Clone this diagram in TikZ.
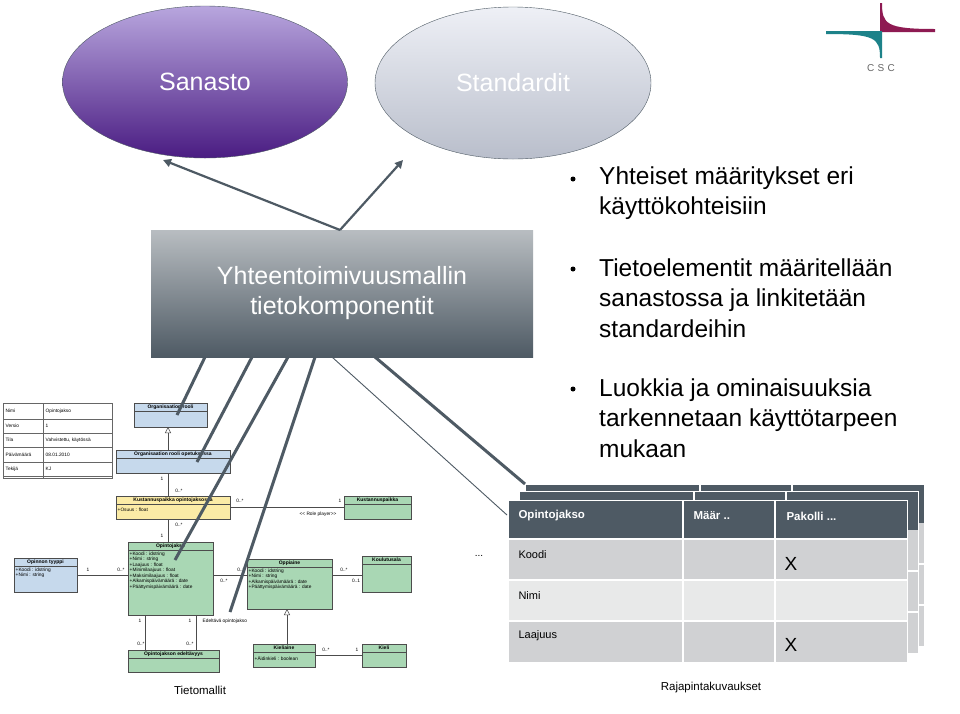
\documentclass[tikz,border=0pt]{standalone}
\usepackage{fontspec}
\setmainfont{Liberation Sans}
\usetikzlibrary{shapes.geometric,arrows.meta}
\definecolor{slate}{HTML}{4E5A64}
\definecolor{umlblue}{HTML}{C6D9EC}
\definecolor{umlgreen}{HTML}{A9D7B4}
\definecolor{umlyellow}{HTML}{FBEBA6}
\definecolor{rowA}{HTML}{D0D1D3}
\definecolor{rowB}{HTML}{E8E9E9}
\definecolor{cscteal}{HTML}{1D8289}
\definecolor{cscred}{HTML}{8E1A52}
\definecolor{lavtop}{HTML}{B8A6DE}
\definecolor{lavbot}{HTML}{4A1C82}
\definecolor{stdtop}{HTML}{EEF0F6}
\definecolor{stdbot}{HTML}{B9BECB}
\begin{document}
\begin{tikzpicture}[x=1pt,y=-1pt,
  tiny/.style={font=\fontsize{4.8}{5.5}\selectfont,inner sep=0.5pt},
  tinyb/.style={font=\fontsize{5}{5.5}\selectfont\bfseries,inner sep=0.5pt},
  umlline/.style={draw=black!70,line width=0.5pt},
  thick line/.style={draw=slate,line width=3pt},
  bullet/.style={anchor=west,font=\fontsize{24.5}{30.5}\selectfont,align=left,text=black,inner sep=0pt},
  tcell/.style={anchor=west,font=\fontsize{11}{12}\selectfont},
  hcell/.style={anchor=west,font=\fontsize{11.5}{12}\selectfont\bfseries,text=white},
  xmark/.style={anchor=west,font=\fontsize{19}{19}\selectfont},
  gen/.style={-{Triangle[open,length=6pt,width=6pt]},black!70,line width=0.5pt}
]
\useasboundingbox (0,0) rectangle (960,713);
\fill[white] (0,0) rectangle (960,713);

% CSC logo
\fill[cscred] (880,3) -- (882,3) .. controls (882,24) and (886,29) .. (935,29) -- (935,32) -- (880,32) -- cycle;
\fill[cscteal] (826,31) -- (880,31) -- (882,31) -- (882,58) -- (880,58) .. controls (880,38) and (875,34) .. (826,34) -- cycle;
\node[text=black!60,font=\fontsize{10}{10}\selectfont] (csc) at (881,68) {C\,\,S\,\,C};

% ellipses
\node[ellipse,draw=slate,top color=lavtop,bottom color=lavbot,
  minimum width=285pt,minimum height=152pt,text=white,font=\fontsize{25}{28}\selectfont] (san) at (205,82) {Sanasto};
\node[ellipse,draw=slate,top color=stdtop,bottom color=stdbot,
  minimum width=276pt,minimum height=152pt,text=white,font=\fontsize{25}{28}\selectfont] (std) at (513,83) {Standardit};

% main box
\node[top color=slate!40!white,bottom color=slate,minimum width=382pt,minimum height=127pt,
  text=white,align=center,font=\fontsize{25}{30}\selectfont] (box) at (342,293.5) {Yhteentoimivuusmallin\\tietokomponentit};
\coordinate (top) at (340,230);
\draw[slate,line width=2.2pt,-{Triangle[length=8pt,width=8pt]}] (top) -- (163,160);
\draw[slate,line width=2.2pt,-{Triangle[length=8pt,width=8pt]}] (top) -- (403,160);

% bullets
\foreach \y in {179,269,389} \fill (573,\y) circle (2.5pt);
\node[bullet] (b1) at (599,193) {Yhteiset määritykset eri\\käyttökohteisiin};
\node[bullet] (b2) at (599,298) {Tietoelementit määritellään\\sanastossa ja linkitetään\\standardeihin};
\node[bullet] (b3) at (599,418) {Luokkia ja ominaisuuksia\\tarkennetaan käyttötarpeen\\mukaan};

% ---------- UML ----------
\draw[black!60,line width=0.4pt] (3,403) rectangle (112,478);
\foreach \y in {419,433,447,462,476} \draw[black!60,line width=0.4pt] (3,\y) -- (112,\y);
\draw[black!60,line width=0.4pt] (43,403) -- (43,478);
\foreach \a/\b/\y in {Nimi/Opintojakso/411,Versio/1/426,Tila/{Vahvistettu, käytössä}/440,Päivämäärä/08.01.2010/454.5,Tekijä/KJ/469}{
  \node[tiny,anchor=west] at (5,\y) {\a};
  \node[tiny,anchor=west] at (45,\y) {\b};}

\newcommand{\umlclass}[7]{%
  \fill[#6] (#2,#3) rectangle (#4,#5);
  \draw[black!70,line width=0.5pt] (#2,#3) rectangle (#4,#5);
  \draw[black!70,line width=0.4pt] (#2,#3+8) -- (#4,#3+8);
  \node[tinyb] (#1) at ({(#2+#4)/2},#3+4) {#7};}
\umlclass{or}{134}{403}{207}{427}{umlblue}{Organisaation rooli}
\umlclass{oro}{116}{450}{230}{473}{umlblue}{Organisaation rooli opetuksessa}
\umlclass{kpo}{116}{496}{230}{519}{umlyellow}{Kustannuspaikka opintojaksossa}
\umlclass{kp}{344}{496}{411}{519}{umlgreen}{Kustannuspaikka}
\umlclass{oj}{128}{542}{213}{615}{umlgreen}{Opintojakso}
\umlclass{ot}{14}{558}{77}{592}{umlblue}{Opinnon tyyppi}
\umlclass{opp}{247}{559}{332}{609}{umlgreen}{Oppiaine}
\umlclass{ka}{362}{556}{411}{592}{umlgreen}{Koulutusala}
\umlclass{kie}{253}{644}{315}{667}{umlgreen}{Kieliaine}
\umlclass{kl}{362}{644}{406}{667}{umlgreen}{Kieli}
\umlclass{oje}{128}{650}{219}{672}{umlgreen}{Opintojakson edeltävyys}

\node[tiny,anchor=west] at (117,510) {+Osuus : float};
\node[tiny,anchor=north west,align=left] at (129,551) {+Koodi : idstring\\+Nimi : string\\+Laajuus : float\\+Minimilaajuus : float\\+Maksimilaajuus : float\\+Alkamispäivämäärä : date\\+Päättymispäivämäärä : date};
\node[tiny,anchor=north west,align=left] at (15,567) {+Koodi : idstring\\+Nimi : string};
\node[tiny,anchor=north west,align=left] at (248,568) {+Koodi : idstring\\+Nimi : string\\+Alkamispäivämäärä : date\\+Päättymispäivämäärä : date};
\node[tiny,anchor=west] at (254,658) {+Äidinkieli : boolean};

\draw[gen] (168,450) -- (168,427);
\draw[gen] (287,644) -- (287,609);
\draw[umlline] (168,473) -- (168,496);
\draw[umlline] (168,519) -- (168,542);
\draw[umlline] (230,507) -- (344,507);
\draw[umlline] (77,575) -- (128,575);
\draw[umlline] (213,575) -- (247,575);
\draw[umlline] (332,575) -- (362,575);
\draw[umlline] (315,655) -- (362,655);
\draw[umlline] (145,615) -- (145,650);
\draw[umlline] (196,615) -- (196,650);
\foreach \t/\x/\y in {1/162/479,{0..*}/179/491,{0..*}/179/525,1/162/536,{0..*}/240/501,1/340/501,
  1/88/570,{0..*}/121/570,{0..*}/241/570,{0..*}/224/581,{0..*}/344/570,{0..1}/356/581,
  {0..*}/326/650,1/357/650,1/140/621,1/190/621,{0..*}/141/644,{0..*}/190/644}
  \node[tiny] at (\x,\y) {\t};
\node[tiny] at (318,514) {<{}< Role player>{}>};
\node[tiny,anchor=west] at (202,621) {Edeltävä opintojakso};

% ---------- table stack ----------
\foreach \dx/\dy in {17/-16,11/-9}{
  \begin{scope}[shift={(\dx,\dy)}]
  \fill[rowA] (508,539) rectangle (907,662);
  \fill[slate] (508,500) rectangle (907,539);
  \foreach \y in {580,621} \draw[white,line width=1.5pt] (508,\y) -- (907,\y);
  \foreach \x in {683,775} \draw[white,line width=1.5pt] (\x,500) -- (\x,662);
  \draw[white,line width=1pt] (508,500) rectangle (907,662);
  \end{scope}}
\fill[slate] (508,500) rectangle (907,539);
\fill[rowA] (508,539) rectangle (907,580);
\fill[rowB] (508,580) rectangle (907,621);
\fill[rowA] (508,621) rectangle (907,662);
\foreach \y in {539,580,621} \draw[white,line width=1.5pt] (508,\y) -- (907,\y);
\foreach \x in {683,775} \draw[white,line width=1.5pt] (\x,500) -- (\x,662);
\draw[white,line width=1pt] (508,500) rectangle (907,662);
\node[hcell] (h1) at (515,516) {Opintojakso};
\node[hcell] (h2) at (690,516) {Määr ..};
\node[hcell] (h3) at (783,516) {Pakolli ...};
\node[tcell] (r1) at (515,555) {Koodi};
\node[tcell] (r2) at (515,596) {Nimi};
\node[tcell] (r3) at (515,636) {Laajuus};
\node[xmark] (x1) at (781,564) {X};
\node[xmark] (x2) at (781,645) {X};
\node[font=\fontsize{10}{10}\selectfont] (dots) at (479,556) {...};
\coordinate (tc1) at (525,484);
\coordinate (tc2) at (507,515);

\draw[thick line] (205,357) -- (177,415);
\draw[thick line] (252,357) -- (197,462);
\draw[thick line] (288,357) -- (175,560);
\draw[thick line] (315,357) -- (230,612);
\draw[slate,line width=0.9pt] (332,357) -- (tc2);
\draw[thick line] (375,357) -- (tc1);

\node[font=\fontsize{11.5}{13}\selectfont] (tm) at (200,690) {Tietomallit};
\node[font=\fontsize{11.5}{13}\selectfont] (rk) at (711,688) {Rajapintakuvaukset};
\end{tikzpicture}
\end{document}
